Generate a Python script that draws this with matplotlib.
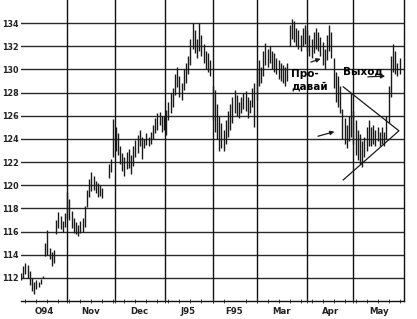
import matplotlib
matplotlib.use("Agg")
import matplotlib.pyplot as plt

# ---- data ----
days = list(range(0, 11)) + list(range(11, 38)) + list(range(40, 173))
highs = [
    112.4, 113.0, 113.3, 113.1, 112.6, 112.0, 111.6, 111.8, 111.6, 111.9, 112.2,
    115.0, 116.1, 114.6, 114.2, 114.4, 117.0, 117.7, 117.3, 116.9, 117.6,
    119.4, 118.8, 117.8, 117.2, 116.8, 116.6, 116.9, 117.2, 118.2, 119.6, 120.5, 121.1, 120.8, 120.4, 120.2, 120.0, 119.8,
    121.8, 122.3, 125.7,
    125.0, 124.5, 123.4, 122.8, 122.4, 122.9, 123.1, 122.6, 123.4, 123.9, 124.3, 124.8, 124.2, 124.0, 124.5, 124.2, 124.6, 125.2, 125.8, 126.2, 126.3, 126.0,
    126.0, 126.5, 127.2, 128.0, 128.4, 129.6, 130.2, 129.4, 128.8, 130.0, 130.6, 131.2, 132.6, 134.0, 133.4, 132.6, 134.0, 133.0, 132.2, 131.6, 131.4, 130.8,
    128.6, 128.2, 127.0, 126.0, 125.4, 124.8, 125.6, 126.4, 127.0, 127.6, 128.2, 127.8, 127.2, 127.6, 128.0, 128.1, 127.6, 127.4, 128.4, 128.8,
    130.0, 130.8, 130.2, 131.6, 132.3, 131.8, 132.0, 131.6, 131.4, 131.0, 130.8, 130.6, 130.4, 130.2, 130.6, 133.8, 134.4, 134.2, 133.6, 133.4, 133.0, 133.6, 133.8,
    133.4, 133.0, 132.6, 133.2, 133.6, 133.2, 132.8, 132.4, 131.8, 133.0, 133.8, 133.2, 131.0, 129.8, 129.4, 128.6, 126.6, 125.8, 125.2, 126.0, 128.0,
    126.4, 125.6, 124.8, 124.4, 123.8, 124.2, 125.0, 125.6, 125.0, 125.2, 124.8, 125.0, 124.6, 125.0, 124.6, 126.0, 128.6, 131.2, 132.2, 131.6, 130.6, 131.0,
]
lows = [
    111.8, 112.0, 112.3, 112.0, 111.4, 110.9, 110.6, 111.0, 111.2, 111.5, 112.0,
    113.9, 114.0, 113.6, 113.0, 113.3, 115.8, 116.3, 116.2, 116.0, 116.4,
    117.2, 117.0, 116.3, 115.9, 115.8, 115.6, 115.9, 116.0, 116.4, 118.1, 119.0, 119.5, 119.6, 119.3, 119.0, 119.1, 118.9,
    120.6, 121.1, 122.4,
    123.0, 122.6, 121.8, 121.2, 120.8, 121.4, 121.5, 121.0, 121.7, 122.4, 122.8, 123.4, 122.3, 123.2, 123.5, 123.4, 123.6, 124.0, 124.5, 124.8, 125.2, 124.6,
    124.8, 124.3, 125.6, 126.2, 126.8, 127.8, 128.5, 127.6, 127.4, 128.2, 128.8, 129.6, 130.4, 131.8, 131.4, 131.0, 131.6, 131.2, 130.6, 130.0, 129.8, 129.4,
    125.6, 124.6, 124.0, 123.0, 123.2, 123.0, 123.6, 124.2, 124.8, 125.4, 126.2, 126.0, 125.8, 126.2, 126.6, 126.4, 125.8, 126.2, 126.8, 125.0,
    127.4, 128.6, 128.8, 129.4, 130.4, 130.2, 130.6, 130.0, 129.8, 129.6, 129.2, 129.0, 128.8, 128.6, 129.0, 132.0, 132.6, 132.4, 132.0, 131.8, 131.6, 132.0, 132.2,
    131.6, 131.2, 131.0, 131.4, 131.8, 131.6, 131.2, 130.4, 130.0, 130.8, 131.6, 131.0, 128.4, 127.2, 126.8, 126.2, 124.0, 123.6, 123.2, 123.8, 124.2,
    123.6, 122.6, 122.2, 121.8, 121.6, 122.4, 123.0, 123.4, 123.4, 123.6, 123.4, 123.8, 123.4, 123.6, 123.4, 124.0, 125.4, 127.6, 129.8, 129.6, 129.4, 129.6,
]
month_bounds = [20.8, 42.6, 65.2, 87.0, 107.0, 130.0, 151.0]
month_labels = ["O94", "Nov", "Dec", "J95", "F95", "Mar", "Apr", "May"]
y_ticks = [112, 114, 116, 118, 120, 122, 124, 126, 128, 130, 132, 134]

W, H = 417, 319
fig = plt.figure(figsize=(W / 100, H / 100), dpi=100)
ax = fig.add_axes([21 / W, 18 / H, 383 / W, 301 / H])
ax.set_xlim(0, 174)
ax.set_ylim(110, 136)

for y in y_ticks:
    ax.axhline(y, color="#2a2a2a", lw=1.0, zorder=1)
for x in month_bounds:
    ax.axvline(x, color="#111111", lw=1.0, zorder=1)

ax.vlines(days, lows, highs, color="#1a1a1a", lw=1.0, zorder=3)

for s in ["top", "left"]:
    ax.spines[s].set_visible(False)
ax.spines["right"].set_color("#111111")
ax.spines["bottom"].set_color("#111111")
ax.spines["right"].set_linewidth(1.0)
ax.spines["bottom"].set_linewidth(1.0)

ax.set_yticks(y_ticks)
ax.set_yticklabels([str(v) for v in y_ticks], fontsize=5.8, fontweight="bold", color="#222222")
ax.tick_params(axis="y", length=0, pad=1.5)

edges = [0] + month_bounds + [174]
centers = [(edges[i] + edges[i + 1]) / 2 for i in range(len(month_labels))]
ax.set_xticks(centers)
ax.set_xticklabels(month_labels, fontsize=6.2, fontweight="bold", color="#222222")
ax.tick_params(axis="x", length=0, pad=4)
ax.set_xticks(list(range(2, 174, 5)) + month_bounds, minor=True)
ax.tick_params(axis="x", which="minor", length=2.5, direction="inout", color="#333333")

# annotations
ax.text(122.8, 129.05, "Про-\nдавай", fontsize=7.5, fontweight="bold", ha="left", va="center",
        linespacing=1.25, zorder=5)
ax.text(146.4, 129.8, "Выход", fontsize=7.5, fontweight="bold", ha="left", va="center", zorder=5)

arrow = dict(arrowstyle="-|>", color="#1a1a1a", lw=0.9, mutation_scale=6)
ax.annotate("", xy=(137.3, 131.0), xytext=(130.5, 130.56), arrowprops=arrow, zorder=5)
ax.annotate("", xy=(166.7, 129.44), xytext=(156.3, 129.35), arrowprops=arrow, zorder=5)
ax.annotate("", xy=(143.6, 124.69), xytext=(133.7, 124.17), arrowprops=arrow, zorder=5)

ax.plot([146.4, 171.7, 146.4], [128.5, 124.7, 120.46], color="#1a1a1a", lw=0.9, zorder=4)

fig.savefig("out.png", dpi=100)
